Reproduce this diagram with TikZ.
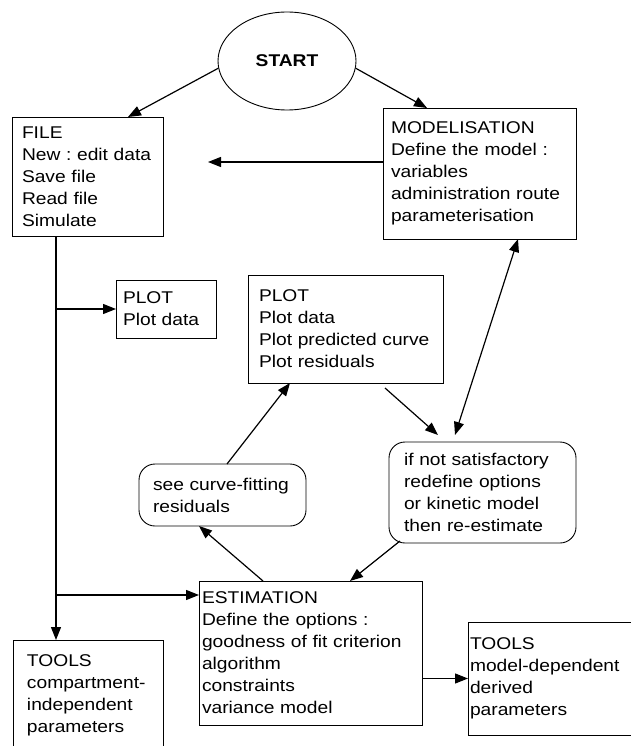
\documentclass[tikz,border=0pt]{standalone}
\usepackage{fontspec}
\setmainfont[FakeStretch=1.13]{Liberation Sans}
\usetikzlibrary{shapes.geometric,arrows.meta}

\begin{document}
\frenchspacing
\begin{tikzpicture}[x=1pt,y=-1pt,font=\fontsize{17}{22}\selectfont]
	\tikzstyle{rect1} = [rectangle,draw=black,line width=0.9pt,anchor=north west,
	align=left,inner ysep=0pt,outer sep=0pt]
	\tikzstyle{rect2} = [rect1,rounded corners=16pt]
	\tikzstyle{ell1} = [ellipse,draw=black,line width=0.9pt,minimum width=138pt,minimum height=98pt]
	\tikzstyle{arr} = [-{Triangle[length=13pt,width=10pt]},line width=1.2pt]
	\useasboundingbox (0,0) rectangle (631,746);

	\node (node1) [ell1,font=\fontsize{17}{22}\selectfont\bfseries] at (287,61) {START};
	\node (node2) [rect1,inner xsep=10pt,text width=131pt,minimum height=119pt] at (12,117)
		{FILE\\New : edit data\\Save file\\Read file\\Simulate};
	\node (node3) [rect1,inner xsep=8pt,text width=177pt,minimum height=131pt] at (383,108)
		{MODELISATION\\Define the model :\\variables\\administration route\\parameterisation};
	\node (node4) [rect1,inner xsep=7pt,text width=86pt,minimum height=58pt] at (116,280)
		{PLOT\\Plot data};
	\node (node5) [rect1,inner xsep=11pt,text width=173pt,minimum height=108pt] at (248,275)
		{PLOT\\Plot data\\Plot predicted curve\\Plot residuals};
	\node (node6) [rect2,inner xsep=14pt,text width=139pt,minimum height=62pt] at (139,464)
		{see curve-fitting\\residuals};
	\node (node7) [rect2,inner xsep=15pt,text width=157pt,minimum height=101pt] at (389,442)
		{if not satisfactory\\redefine options\\or kinetic model\\then re-estimate};
	\node (node8) [rect1,inner xsep=3pt,text width=217pt,minimum height=144pt] at (199,581)
		{ESTIMATION\\Define the options :\\goodness of fit criterion\\algorithm\\constraints\\variance model};
	\node (node9) [rect1,inner xsep=14pt,text width=122pt,minimum height=110pt] at (13,640)
		{TOOLS\\compartment-\\independent\\parameters};
	\node (node10) [rect1,inner xsep=2pt,text width=159pt,minimum height=113pt] at (468,622)
		{TOOLS\\model-dependent\\derived\\parameters};

	% start
	\draw[arr] (node1.186) -- ([xshift=40.5pt]node2.north);
	\draw[arr] (node1.354) -- ([xshift=-52.5pt]node3.north);
	\coordinate (gap1) at (208,162);
	\draw[arr] (node3.west |- gap1) -- (gap1);
	% file branches
	\coordinate (trunk) at ([xshift=-31.5pt]node2.south);
	\draw[arr] (trunk) -- (trunk |- node9.north);
	\draw[arr] (trunk |- node4.west) -- (node4.west);
	\coordinate (estin) at ([yshift=-14pt]node8.north west);
	\draw[arr] (trunk |- estin) -- (estin);
	% loop
	\draw[arr] ([xshift=4.5pt]node6.north) -- ([xshift=-55.5pt]node5.south);
	\draw[arr] ([xshift=39.5pt,yshift=-5pt]node5.south) -- ([xshift=-44.5pt,yshift=7pt]node7.north);
	\draw[arr,{Triangle[length=13pt,width=10pt]}-{Triangle[length=13pt,width=10pt]}]
		([xshift=38.5pt]node3.south) -- ([xshift=-27.5pt,yshift=7pt]node7.north);
	\draw[arr] ([xshift=-47.5pt]node8.north) -- ([xshift=-23.5pt]node6.south);
	\draw[arr] ([xshift=-82.5pt,yshift=2pt]node7.south) -- ([xshift=39.5pt]node8.north);
	\draw[arr] (node8.east |- node10.west) -- (node10.west);
\end{tikzpicture}
\end{document}
